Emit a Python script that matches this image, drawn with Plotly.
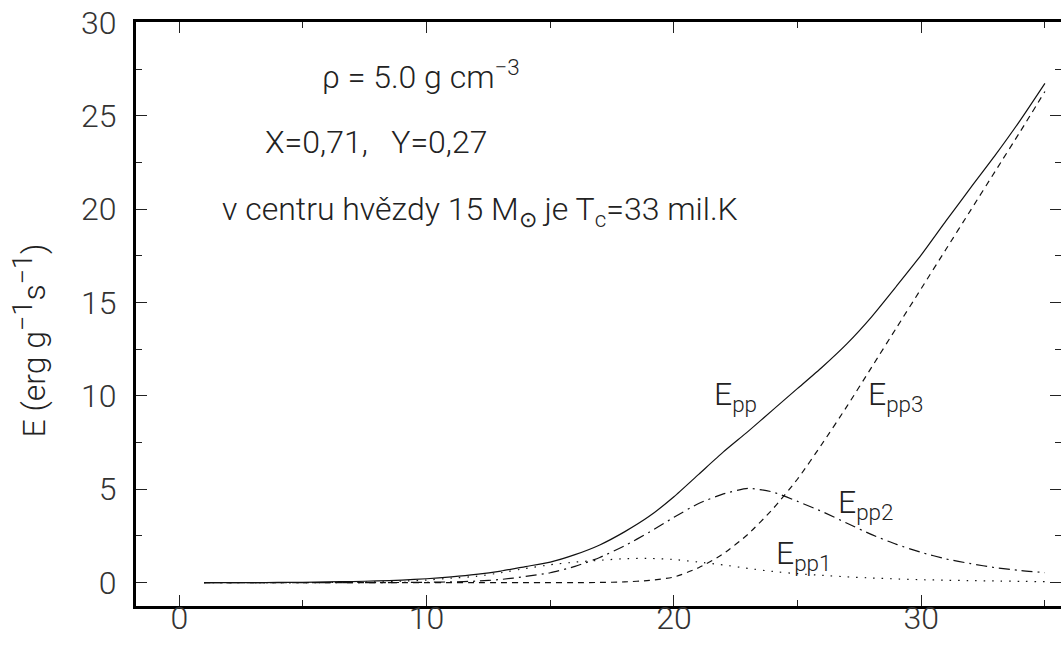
import plotly.graph_objects as go

# ---- data ----
T = list(range(1, 36))  # temperature, million K

E_pp = [0.0, 0.0, 0.0, 0.01, 0.02, 0.04, 0.06, 0.09, 0.14, 0.21,
        0.31, 0.44, 0.62, 0.86, 1.1, 1.5, 2.02, 2.72, 3.55, 4.6,
        5.8, 7.0, 8.1, 9.25, 10.4, 11.55, 12.8, 14.25, 15.88, 17.55,
        19.37, 21.15, 22.9, 24.75, 26.73]

E_pp1 = [0.0, 0.0, 0.0, 0.0, 0.0, 0.01, 0.02, 0.04, 0.08, 0.14,
         0.24, 0.34, 0.53, 0.76, 0.96, 1.1, 1.2, 1.28, 1.3, 1.24,
         1.1, 0.95, 0.76, 0.6, 0.48, 0.39, 0.31, 0.25, 0.2, 0.16,
         0.13, 0.11, 0.09, 0.07, 0.05]

E_pp2 = [0.0, 0.0, 0.0, 0.0, 0.0, 0.0, 0.0, 0.0, 0.01, 0.02,
         0.04, 0.08, 0.17, 0.33, 0.53, 0.87, 1.35, 1.97, 2.7, 3.5,
         4.24, 4.75, 5.05, 4.85, 4.35, 3.8, 3.18, 2.57, 2.05, 1.62,
         1.27, 1.02, 0.8, 0.65, 0.54]

E_pp3 = [0.0, 0.0, 0.0, 0.0, 0.0, 0.0, 0.0, 0.0, 0.0, 0.0,
         0.0, 0.0, 0.0, 0.0, 0.0, 0.0, 0.01, 0.04, 0.12, 0.3,
         0.8, 1.55, 2.6, 3.95, 5.55, 7.45, 9.45, 11.55, 13.65, 15.75,
         17.85, 19.95, 22.05, 24.15, 26.3]

x_ticks = [0, 10, 20, 30]
y_ticks = [0, 5, 10, 15, 20, 25, 30]

FONT = "Roboto"
TXT = "#222222"
LINE = "#111111"

def line(dash=None):
    d = dict(color=LINE, width=1.2, shape="spline", smoothing=0.6)
    if dash:
        d["dash"] = dash
    return d

fig = go.Figure()
fig.add_trace(go.Scatter(x=T, y=E_pp1, mode="lines", line=line("1.5px,7px"), showlegend=False))
fig.add_trace(go.Scatter(x=T, y=E_pp2, mode="lines", line=line("11px,5px,2px,5px"), showlegend=False))
fig.add_trace(go.Scatter(x=T, y=E_pp3, mode="lines", line=line("6px,5px"), showlegend=False))
fig.add_trace(go.Scatter(x=T, y=E_pp, mode="lines", line=line(), showlegend=False))
# invisible helper so the right-hand tick axis is rendered
fig.add_trace(go.Scatter(x=T, y=E_pp, mode="lines", line=dict(width=0), opacity=0,
                         yaxis="y2", hoverinfo="skip", showlegend=False))

tickfont = dict(family=FONT, size=32, color="#333333", weight=300)
minor_x = dict(dtick=5, tick0=0, ticks="inside", ticklen=6, tickcolor="#222", tickwidth=1.2, showgrid=False)
minor_y = dict(dtick=2.5, tick0=0, ticks="inside", ticklen=6, tickcolor="#222", tickwidth=1.2, showgrid=False)

fig.update_layout(
    width=1061, height=650,
    margin=dict(l=136, r=0, t=22, b=44),
    paper_bgcolor="white", plot_bgcolor="white",
    hovermode=False,
    xaxis=dict(range=[-1.75, 35.65], tickvals=x_ticks, ticks="inside", ticklen=11,
               tickwidth=1.2, tickcolor="#222", showline=True, linewidth=3, linecolor="black",
               mirror="ticks", showgrid=False, zeroline=False, tickfont=tickfont,
               automargin=False, ticklabelstandoff=-18, ticklabeloverflow="allow", minor=minor_x),
    yaxis=dict(range=[-1.25, 30.02], tickvals=y_ticks, ticks="inside", ticklen=11,
               tickwidth=1.2, tickcolor="#222", showline=True, linewidth=3, linecolor="black",
               mirror=False, showgrid=False, zeroline=False, tickfont=tickfont,
               automargin=False, ticklabelstandoff=10, ticklabeloverflow="allow", minor=minor_y),
    yaxis2=dict(range=[-1.25, 30.02], overlaying="y", side="right", tickvals=y_ticks,
                ticks="inside", ticklen=11, tickwidth=1.2, tickcolor="#222", showticklabels=False,
                showline=False, showgrid=False, zeroline=False, automargin=False, minor=minor_y),
)

afont = dict(family=FONT, size=32, color=TXT, weight=300)

annos = [
    dict(text="ρ = 5.0 g cm<sup>−3</sup>", x=9.77, y=27.2, xanchor="center"),
    dict(text="X=0,71,   Y=0,27", x=7.97, y=23.6, xanchor="center"),
    dict(text="v centru hvězdy 15 M<sub>⊙</sub> je T<sub>c</sub>=33 mil.K", x=12.16, y=19.9, xanchor="center"),
    dict(text="E<sub>pp</sub>", x=21.55, y=10.0, xanchor="left"),
    dict(text="E<sub>pp3</sub>", x=27.75, y=10.0, xanchor="left"),
    dict(text="E<sub>pp2</sub>", x=26.55, y=4.2, xanchor="left"),
    dict(text="E<sub>pp1</sub>", x=24.05, y=1.5, xanchor="left"),
]
for a in annos:
    fig.add_annotation(xref="x", yref="y", showarrow=False, yanchor="middle", font=afont, **a)

sup = "<sup><span style='font-size:27px'>−1</span></sup>"
fig.add_annotation(text="E (erg g" + sup + "s" + sup + ")", xref="paper", yref="paper",
                   x=-0.115, y=0.454, xanchor="center", yanchor="middle", textangle=-90,
                   showarrow=False, font=dict(family=FONT, size=32, color=TXT, weight=300))

# remove the default 8px page margin so the figure fills the window exactly
fig.write_html("out.html", config={"displayModeBar": False},
               post_script="document.body.style.margin='0';")
